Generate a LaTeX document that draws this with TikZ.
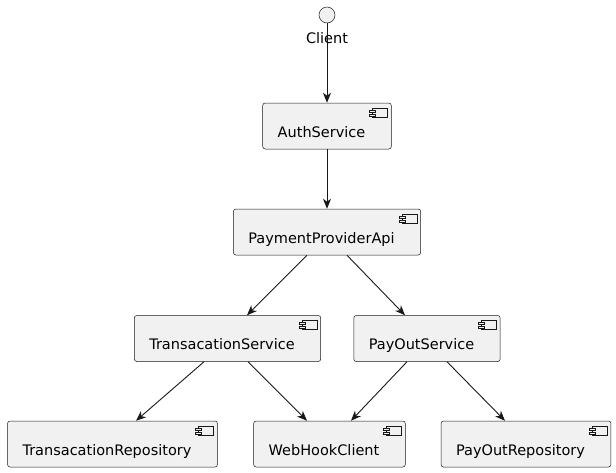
\documentclass[tikz,border=0pt]{standalone}
\usepackage{fontspec}
\setmainfont{DejaVu Sans}
\usepackage{tikz}
\usetikzlibrary{arrows.meta,positioning}
\definecolor{umlline}{HTML}{181818}
\definecolor{umlfill}{HTML}{F1F1F1}
\tikzset
{
    compnode/.style = {rectangle, draw=umlline, fill=umlfill, line width=0.5pt, rounded corners=2.5pt, minimum height=46pt, inner xsep=15pt, text height=26pt, text depth=4pt, font=\fontsize{14.5}{16}\selectfont, execute at end node=\hspace{11pt}},
    actornode/.style = {circle, draw=umlline, fill=umlfill, line width=0.5pt, minimum size=16pt, inner sep=0pt},
    compicon/.style = {draw=umlline, fill=umlfill, line width=0.5pt},
    conn/.style = {->, draw=umlline, line width=0.9pt}
}

\begin{document}
\begin{tikzpicture}[x=1pt, y=-1pt, >={Stealth[length=10pt, width=8pt, inset=3pt]}]
    \useasboundingbox (0,0) rectangle (616,472);

    % client
    \node [actornode] (client) at (327,15) {};
    \node [anchor=base, font=\fontsize{14.5}{16}\selectfont] (clientlbl) at (327,43) {Client};

    % components
    \node [compnode] (auth) at (327,126) {AuthService};
    \node [compnode] (api) at (327,232) {PaymentProviderApi};
    \node [compnode] (txsvc) at (227.5,338.5) {TransacationService};
    \node [compnode] (paysvc) at (427,338.5) {PayOutService};
    \node [compnode] (txrepo) at (112.5,444) {TransacationRepository};
    \node [compnode] (webhook) at (329.5,444) {WebHookClient};
    \node [compnode] (payrepo) at (526,444) {PayOutRepository};

    % component icons
    \foreach \n in {auth,api,txsvc,paysvc,txrepo,webhook,payrepo}
    {
        \draw [compicon] ([shift={(-19,5)}]\n.north east) rectangle ++(15,9);
        \draw [compicon] ([shift={(-22,7)}]\n.north east) rectangle ++(6,2);
        \draw [compicon] ([shift={(-22,11)}]\n.north east) rectangle ++(6,2);
    }

    % connectors
    \draw [conn] (client) -- (auth);
    \draw [conn] (auth) -- (api);
    \draw [conn] ([xshift=-20pt]api.south) -- ([xshift=19.5pt]txsvc.north);
    \draw [conn] ([xshift=20pt]api.south) -- ([xshift=-22pt]paysvc.north);
    \draw [conn] ([xshift=-23.5pt]txsvc.south) -- ([xshift=23.5pt]txrepo.north);
    \draw [conn] ([xshift=20.5pt]txsvc.south) -- ([xshift=-22.5pt]webhook.north);
    \draw [conn] ([xshift=-20pt]paysvc.south) -- ([xshift=21.5pt]webhook.north);
    \draw [conn] ([xshift=20pt]paysvc.south) -- ([xshift=-21pt]payrepo.north);
\end{tikzpicture}
\end{document}
